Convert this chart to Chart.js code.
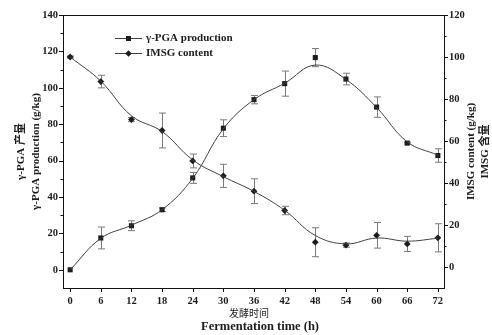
<!DOCTYPE html>
<html>
<head>
<meta charset="utf-8">
<script src="https://cdn.jsdelivr.net/npm/chart.js@4.4.1/dist/chart.umd.min.js"></script>
<style>
  html, body { margin: 0; padding: 0; background: #ffffff; }
  #wrap { width: 492px; height: 335px; }
</style>
</head>
<body>
<div id="wrap"><canvas id="chart" width="492" height="335"></canvas></div>
<script>
// Fermentation time (h)
const hours = [0, 6, 12, 18, 24, 30, 36, 42, 48, 54, 60, 66, 72];

// γ-PGA production (g/kg), mean and error
const pgaProduction = [0, 17.5, 24.2, 33, 50.5, 77.8, 93.5, 102.3, 116.6, 104.8, 89.4, 69.6, 62.8];
const pgaError      = [0, 6, 2.7, 1, 3, 4.6, 2.3, 6.9, 5, 3.2, 5.6, 0.5, 3.7];
// smoothed trend line for γ-PGA
const pgaTrend      = [0, 17.3, 24.5, 33, 50.3, 77.5, 93.5, 102.5, 112.5, 104.6, 89.2, 70.3, 63];

// IMSG content (g/kg), mean and error
const imsgContent = [100, 88.3, 70.2, 65, 50.5, 43.4, 36.1, 26.9, 11.8, 10.4, 15.1, 11, 13.9];
const imsgError   = [0.5, 3, 1, 8.3, 3.3, 5.5, 5.9, 2, 6.9, 1, 6.1, 3.6, 6.7];
// smoothed trend line for IMSG
const imsgTrend   = [100, 88.5, 72, 64.5, 51, 43, 36, 27, 15, 11, 13.8, 12.3, 13.7];

// axis tick values
const xTicks = [0, 6, 12, 18, 24, 30, 36, 42, 48, 54, 60, 66, 72];
const leftTicks = [0, 20, 40, 60, 80, 100, 120, 140];
const leftMinor = [10, 30, 50, 70, 90, 110, 130];
const rightTicks = [0, 20, 40, 60, 80, 100, 120];
const rightMinor = [10, 30, 50, 70, 90, 110];

const legendLabels = ['γ-PGA production', 'IMSG content'];

const SERIF = "'Liberation Serif', 'Noto Sans CJK SC', serif";
const INK = '#1c1c1c';
const LINE = '#404040';
const ERR = '#7a7a7a';

const pts = (ys) => hours.map((h, i) => ({ x: h, y: ys[i] }));

const decor = {
  id: 'decor',
  beforeDatasetsDraw(chart) {
    const ctx = chart.ctx;
    const x = chart.scales.x;
    ctx.save();
    ctx.strokeStyle = ERR;
    ctx.lineWidth = 1;
    const bars = [[pgaProduction, pgaError, chart.scales.y], [imsgContent, imsgError, chart.scales.y1]];
    bars.forEach(([vals, errs, sc]) => {
      vals.forEach((v, i) => {
        const e = errs[i];
        if (e <= 0) return;
        const px = Math.round(x.getPixelForValue(hours[i])) + 0.5;
        const top = sc.getPixelForValue(v + e);
        const bot = sc.getPixelForValue(v - e);
        ctx.beginPath();
        ctx.moveTo(px, top); ctx.lineTo(px, bot);
        ctx.moveTo(px - 3.5, top); ctx.lineTo(px + 3.5, top);
        ctx.moveTo(px - 3.5, bot); ctx.lineTo(px + 3.5, bot);
        ctx.stroke();
      });
    });
    ctx.restore();
  },
  afterDraw(chart) {
    const ctx = chart.ctx;
    const a = chart.chartArea;
    const x = chart.scales.x, y = chart.scales.y, y1 = chart.scales.y1;
    ctx.save();
    ctx.strokeStyle = '#111';
    ctx.lineWidth = 1;
    // frame top edge
    ctx.beginPath();
    ctx.moveTo(a.left, a.top + 0.5); ctx.lineTo(a.right, a.top + 0.5);
    ctx.stroke();
    // outward ticks
    ctx.beginPath();
    leftTicks.forEach(v => { const p = Math.round(y.getPixelForValue(v)) + 0.5; ctx.moveTo(a.left, p); ctx.lineTo(a.left - 4, p); });
    leftMinor.forEach(v => { const p = Math.round(y.getPixelForValue(v)) + 0.5; ctx.moveTo(a.left, p); ctx.lineTo(a.left - 2.5, p); });
    rightTicks.forEach(v => { const p = Math.round(y1.getPixelForValue(v)) + 0.5; ctx.moveTo(a.right, p); ctx.lineTo(a.right + 4, p); });
    rightMinor.forEach(v => { const p = Math.round(y1.getPixelForValue(v)) + 0.5; ctx.moveTo(a.right, p); ctx.lineTo(a.right + 2.5, p); });
    xTicks.forEach(v => { const p = Math.round(x.getPixelForValue(v)) + 0.5; ctx.moveTo(p, a.bottom); ctx.lineTo(p, a.bottom + 4); });
    ctx.stroke();

    // axis titles
    ctx.fillStyle = INK;
    ctx.textAlign = 'center';
    ctx.textBaseline = 'middle';
    const midY = (a.top + a.bottom) / 2;
    const vtext = (txt, cx, cy, font) => {
      ctx.save();
      ctx.translate(cx, cy);
      ctx.rotate(-Math.PI / 2);
      ctx.font = font;
      ctx.fillText(txt, 0, 0);
      ctx.restore();
    };
    vtext('γ-PGA 产量', 21, midY, 'bold 11px ' + SERIF);
    vtext('γ-PGA production (g/kg)', 36, midY, 'bold 11px ' + SERIF);
    vtext('IMSG content (g/kg)', 471, midY, 'bold 11px ' + SERIF);
    vtext('IMSG 含量', 485, midY, 'bold 11px ' + SERIF);
    ctx.font = '10px ' + SERIF;
    ctx.fillText('发酵时间', 249, 314);
    ctx.font = 'bold 12.5px ' + SERIF;
    ctx.fillText('Fermentation time (h)', 260, 327);

    // legend
    const rows = [{ y: 38.5, style: 'rect' }, { y: 53.5, style: 'diamond' }];
    rows.forEach((r, i) => {
      ctx.strokeStyle = LINE;
      ctx.beginPath();
      ctx.moveTo(115, r.y); ctx.lineTo(142, r.y);
      ctx.stroke();
      ctx.fillStyle = INK;
      if (r.style === 'rect') {
        ctx.fillRect(128.5 - 2.5, r.y - 2.5, 5, 5);
      } else {
        ctx.beginPath();
        ctx.moveTo(128.5, r.y - 3.3); ctx.lineTo(131.8, r.y); ctx.lineTo(128.5, r.y + 3.3); ctx.lineTo(125.2, r.y);
        ctx.closePath(); ctx.fill();
      }
      ctx.font = 'bold 11px ' + SERIF;
      ctx.textAlign = 'left';
      ctx.fillText(legendLabels[i], 146, r.y);
    });
    ctx.restore();
  }
};

const tickFont = { family: SERIF, size: 10.5, weight: 'bold' };

new Chart(document.getElementById('chart'), {
  type: 'line',
  data: {
    datasets: [
      { data: pts(pgaTrend), yAxisID: 'y', borderColor: LINE, borderWidth: 1, pointRadius: 0, tension: 0.4, fill: false },
      { data: pts(imsgTrend), yAxisID: 'y1', borderColor: LINE, borderWidth: 1, pointRadius: 0, tension: 0.4, fill: false },
      { label: legendLabels[0], data: pts(pgaProduction), yAxisID: 'y', showLine: false, pointStyle: 'rect', pointRadius: 3.6, backgroundColor: INK, borderColor: INK, borderWidth: 0 },
      { label: legendLabels[1], data: pts(imsgContent), yAxisID: 'y1', showLine: false, pointStyle: 'rectRot', pointRadius: 3.4, backgroundColor: INK, borderColor: INK, borderWidth: 0 }
    ]
  },
  options: {
    responsive: false,
    animation: false,
    layout: { padding: { top: 15, left: 0, right: 0, bottom: 0 } },
    plugins: { legend: { display: false }, tooltip: { enabled: false } },
    scales: {
      x: {
        type: 'linear', min: -1.4, max: 73.2,
        afterBuildTicks: s => { s.ticks = xTicks.map(v => ({ value: v })); },
        afterFit: s => { s.height = 47; },
        grid: { display: false, drawTicks: false },
        border: { display: true, color: '#111', width: 1 },
        ticks: { color: INK, font: tickFont, padding: 7, maxRotation: 0 }
      },
      y: {
        position: 'left', min: -10, max: 140,
        afterBuildTicks: s => { s.ticks = leftTicks.map(v => ({ value: v })); },
        afterFit: s => { s.width = 63; },
        grid: { display: false, drawTicks: false },
        border: { display: true, color: '#111', width: 1 },
        ticks: { color: INK, font: tickFont, padding: 5 }
      },
      y1: {
        position: 'right', min: -10, max: 120,
        afterBuildTicks: s => { s.ticks = rightTicks.map(v => ({ value: v })); },
        afterFit: s => { s.width = 48; },
        grid: { display: false, drawTicks: false },
        border: { display: true, color: '#111', width: 1 },
        ticks: { color: INK, font: tickFont, padding: 5 }
      }
    }
  },
  plugins: [decor]
});
</script>
</body>
</html>
